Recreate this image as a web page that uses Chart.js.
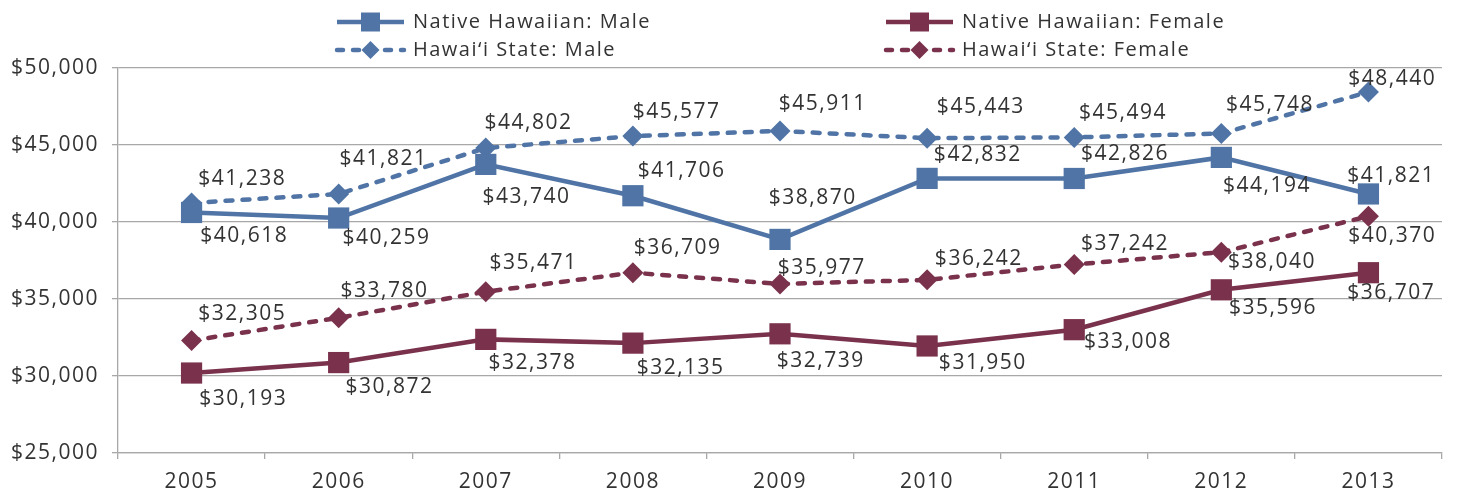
<!DOCTYPE html>
<html>
<head>
<meta charset="utf-8">
<script src="https://cdn.jsdelivr.net/npm/chart.js@4.4.1/dist/chart.umd.min.js"></script>
<style>
  html, body { margin: 0; padding: 0; background: #ffffff; }
  #wrap { width: 1457px; height: 493px; position: relative; }
</style>
</head>
<body>
<div id="wrap"><canvas id="c" width="1457" height="493"></canvas></div>
<script>
// ---------- data ----------
const categories = ['2005', '2006', '2007', '2008', '2009', '2010', '2011', '2012', '2013'];
const nativeMale   = [40618, 40259, 43740, 41706, 38870, 42832, 42826, 44194, 41821];
const stateMale    = [41238, 41821, 44802, 45577, 45911, 45443, 45494, 45748, 48440];
const nativeFemale = [30193, 30872, 32378, 32135, 32739, 31950, 33008, 35596, 36707];
const stateFemale  = [32305, 33780, 35471, 36709, 35977, 36242, 37242, 38040, 40370];
const yTickValues  = [25000, 30000, 35000, 40000, 45000, 50000];
const seriesNames  = ['Native Hawaiian: Male', 'Hawai\u2018i State: Male', 'Native Hawaiian: Female', 'Hawai\u2018i State: Female'];

// ---------- styling ----------
const BLUE = '#4F74A5';
const MAROON = '#7A314C';
const TEXT = '#333333';
const GRID = '#A8A8A8';
const FONT = "'Open Sans', 'Liberation Sans', sans-serif";

// data label offsets from each point (label centre), styling only
const labelOffsets = [
  [[52,24],[47,20],[40,33],[48,-25],[32,-41],[50,-23],[50,-24],[45,29],[22,-18]],
  [[50,-24],[44,-35],[42,-25],[43,-24],[42,-27],[53,-31],[48,-24],[48,-28],[23,-13]],
  [[51,26],[50,24],[46,24],[47,25],[40,27],[55,17],[53,12],[51,18],[22,20]],
  [[50,-26],[45,-27],[47,-29],[44,-25],[41,-16],[51,-21],[50,-20],[50,10],[23,20]]
];

const fmt = v => '$' + v.toLocaleString('en-US');

const spacingPlugin = {
  id: 'spacing',
  beforeDraw(chart) { chart.ctx.letterSpacing = '1.5px'; }
};

const labelPlugin = {
  id: 'pointLabels',
  afterDatasetsDraw(chart) {
    const ctx = chart.ctx;
    ctx.save();
    ctx.letterSpacing = '1.5px';
    ctx.font = '21px ' + FONT;
    ctx.fillStyle = TEXT;
    ctx.textAlign = 'center';
    ctx.textBaseline = 'middle';
    chart.data.datasets.forEach((ds, i) => {
      const meta = chart.getDatasetMeta(i);
      meta.data.forEach((el, j) => {
        const off = labelOffsets[i][j];
        ctx.fillText(fmt(ds.data[j]), el.x + off[0] + 0.75, el.y + off[1]);
      });
    });
    ctx.restore();
  }
};

const legendPlugin = {
  id: 'customLegend',
  afterDraw(chart) {
    const ctx = chart.ctx;
    const colX = [335, 884];
    const rowY = [22, 50];
    const lineW = 71;
    ctx.save();
    ctx.letterSpacing = '1.5px';
    chart.data.datasets.forEach((ds, i) => {
      const col = i < 2 ? 0 : 1;
      const row = i % 2;
      const x0 = colX[col], y = rowY[row];
      const cx = x0 + lineW / 2;
      ctx.strokeStyle = ds.borderColor;
      ctx.fillStyle = ds.borderColor;
      ctx.lineWidth = 4.5;
      ctx.lineCap = ds.borderDash.length ? 'round' : 'butt';
      ctx.setLineDash(ds.borderDash.length ? [6, 10] : []);
      ctx.beginPath();
      ctx.moveTo(x0 + 2, y);
      ctx.lineTo(x0 + lineW - 2, y);
      ctx.stroke();
      ctx.setLineDash([]);
      ctx.beginPath();
      if (ds.pointStyle === 'rect') {
        ctx.rect(cx - 9.5, y - 9.5, 19, 19);
      } else {
        ctx.moveTo(cx - 9, y); ctx.lineTo(cx, y - 9); ctx.lineTo(cx + 9, y); ctx.lineTo(cx, y + 9); ctx.closePath();
      }
      ctx.fill();
      ctx.font = '20px ' + FONT;
      ctx.fillStyle = TEXT;
      ctx.textAlign = 'left';
      ctx.textBaseline = 'middle';
      ctx.fillText(ds.label, x0 + 78, y);
    });
    ctx.restore();
  }
};

function makeDs(label, data, color, dashed, style) {
  return {
    label: label,
    data: data,
    borderColor: color,
    backgroundColor: color,
    borderWidth: 4.5,
    borderDash: dashed ? [7, 10] : [],
    borderCapStyle: dashed ? 'round' : 'butt',
    tension: 0,
    pointStyle: style,
    pointRadius: style === 'rect' ? 15 : 10.5,
    pointHoverRadius: style === 'rect' ? 15 : 10.5,
    pointBorderWidth: 0,
    pointBackgroundColor: color,
    pointBorderColor: color,
    fill: false
  };
}

new Chart(document.getElementById('c'), {
  type: 'line',
  data: {
    labels: categories,
    datasets: [
      makeDs(seriesNames[0], nativeMale, BLUE, false, 'rect'),
      makeDs(seriesNames[1], stateMale, BLUE, true, 'rectRot'),
      makeDs(seriesNames[2], nativeFemale, MAROON, false, 'rect'),
      makeDs(seriesNames[3], stateFemale, MAROON, true, 'rectRot')
    ]
  },
  options: {
    responsive: false,
    animation: false,
    devicePixelRatio: 1,
    layout: { padding: { top: 68, right: 15, bottom: 0, left: 0 } },
    plugins: { legend: { display: false }, tooltip: { enabled: false } },
    scales: {
      x: {
        offset: true,
        afterFit(s) { s.height = 40; },
        grid: { display: true, drawOnChartArea: false, drawTicks: true, tickLength: 6, offset: true, color: GRID, lineWidth: 1.3 },
        border: { display: true, color: GRID, width: 1.3 },
        ticks: { color: TEXT, font: { family: FONT, size: 21 }, padding: 10, maxRotation: 0 }
      },
      y: {
        min: yTickValues[0],
        max: yTickValues[yTickValues.length - 1],
        afterFit(s) { s.width = 118; },
        afterBuildTicks(s) { s.ticks = yTickValues.map(v => ({ value: v })); },
        grid: { color: GRID, lineWidth: 1.3, drawTicks: true, tickLength: 6 },
        border: { display: true, color: GRID, width: 1.3 },
        ticks: { color: TEXT, font: { family: FONT, size: 21 }, padding: 13, callback: v => fmt(v) }
      }
    }
  },
  plugins: [spacingPlugin, labelPlugin, legendPlugin]
});
</script>
</body>
</html>
